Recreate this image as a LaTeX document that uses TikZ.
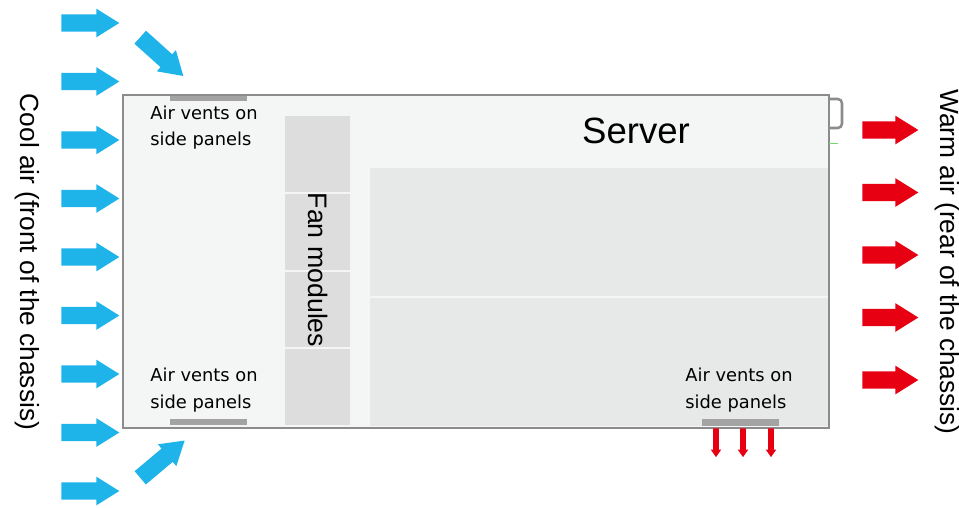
\documentclass[tikz,border=0pt]{standalone}
\usepackage{fontspec}
\setmainfont{Liberation Sans}
\newfontfamily\ventfont{DejaVu Sans}
\usetikzlibrary{shapes.arrows,positioning}

\definecolor{coolblue}{RGB}{30,180,234}
\definecolor{warmred}{RGB}{230,0,18}
\definecolor{chassisfill}{RGB}{244,245,245}
\definecolor{chassisline}{RGB}{140,140,140}
\definecolor{fanfill}{RGB}{221,221,221}
\definecolor{boardfill}{RGB}{231,232,232}
\definecolor{ventgray}{RGB}{163,163,163}

\tikzset{
  airarrow/.style={single arrow, draw=none, inner xsep=0pt, inner ysep=0.21cm,
    minimum height=1.45cm, anchor=tail,
    single arrow head extend=0.14cm, single arrow tip angle=64},
  coolarrow/.style={airarrow, fill=coolblue},
  warmarrow/.style={airarrow, fill=warmred, minimum height=1.4cm},
  exhaust/.style={single arrow, draw=none, fill=warmred, inner xsep=0pt, inner ysep=0.065cm,
    minimum height=0.72cm, anchor=tail,
    single arrow head extend=0.06cm, single arrow tip angle=70, rotate=-90},
  vent/.style={fill=ventgray, draw=none},
  ventlabel/.style={font=\ventfont\fontsize{12.7}{19}\selectfont, align=left, inner sep=0pt},
  sidelabel/.style={font=\fontsize{18.7}{22}\selectfont, rotate=-90, inner sep=0pt}
}

\begin{document}
\begin{tikzpicture}[x=0.025cm,y=-0.025cm]
  \useasboundingbox (0,0) rectangle (959,507);
  % Chassis
  \draw[chassisline, fill=chassisfill, line width=0.8pt] (123,95) rectangle (829,428);
  \draw[chassisline, line width=1.8pt, rounded corners=3pt] (829,99) -- (842,99) -- (842,128) -- (829,128);
  \draw[green!55!gray!70, line width=0.6pt] (829,143) -- (838,143);
  % Fan modules
  \foreach \top/\bot in {116/192, 194/270, 272/347, 349/425}
    \fill[fanfill] (285,\top) rectangle (350,\bot);
  \node[font=\fontsize{19}{22}\selectfont, rotate=-90, inner sep=0pt] (fans) at (318,270) {Fan modules};
  % Boards
  \fill[boardfill] (370,168) rectangle (828,296);
  \fill[boardfill] (370,298) rectangle (828,426);
  \node[font=\fontsize{26}{30}\selectfont, inner sep=0pt] (server) at (636,131) {Server};
  % Vents
  \fill[vent] (170,96) rectangle (247,101);
  \fill[vent] (170,419) rectangle (247,425);
  \fill[vent] (702,419) rectangle (779,426);
  \node[ventlabel] (venttop) at (204,127.5) {Air vents on\\side panels};
  \node[ventlabel] (ventleft) at (204,390) {Air vents on\\side panels};
  \node[ventlabel] (ventright) at (739,390) {Air vents on\\side panels};
  % Cool air in
  \foreach \i in {0,...,8}
    \node[coolarrow] (cool\i) at (61,{23+58.5*\i}) {};
  \node[coolarrow, rotate=-42] (cooltop) at (140,37) {};
  \node[coolarrow, rotate=40] (coolbot) at (140,478) {};
  % Warm air out
  \foreach \i in {0,...,4}
    \node[warmarrow] (warm\i) at (862,{130+62.5*\i}) {};
  \foreach \x in {716,743,771}
    \node[exhaust] (exh\x) at (\x,428) {};
  % Side labels
  \node[sidelabel] (coollabel) at (27,262) {Cool air (front of the chassis)};
  \node[sidelabel] (warmlabel) at (947,262) {Warm air (rear of the chassis)};
\end{tikzpicture}
\end{document}
